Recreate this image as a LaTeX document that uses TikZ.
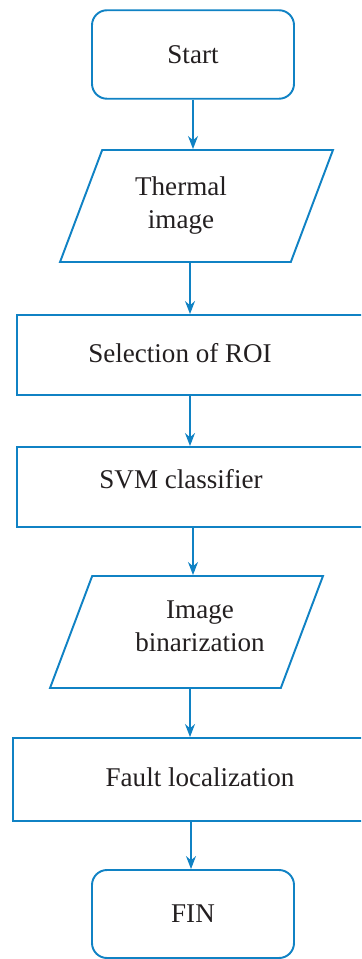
\documentclass[tikz,border=0pt]{standalone}
\usepackage{fontspec}
\setmainfont{Liberation Serif}
\usepackage{tikz}
\usetikzlibrary{shapes.geometric,arrows.meta}
\usepackage{xcolor}
\definecolor{flowblue}{RGB}{16, 130, 196}
\definecolor{flowtext}{RGB}{35, 31, 32}

\tikzset{
    startstop/.style={draw=flowblue,line width=1.1pt,rounded corners=0.3cm,
        minimum width=4.04cm,minimum height=1.77cm,text=flowtext},
    iobox/.style={draw=flowblue,line width=1.1pt,trapezium,trapezium stretches=true,
        trapezium left angle=77.4,trapezium right angle=102.6,inner sep=2pt,
        minimum width=5.46cm,minimum height=2.24cm},
    procbox/.style={draw=flowblue,line width=1.1pt,rectangle,inner sep=0pt,
        minimum height=1.6cm},
    boxtext/.style={text=flowtext,align=center},
    flowarrow/.style={draw=flowblue,line width=0.7pt,-{Stealth[length=0.26cm,width=0.2cm]}}
}

\begin{document}
\fontsize{15.4}{18.8}\selectfont
\begin{tikzpicture}
            \useasboundingbox (0,0) rectangle (7.22,-19.18);
            \clip (0,0) rectangle (7.22,-19.18);

            \node[startstop] (start) at (3.86,-1.09) {Start};
            \node[iobox,label={[boxtext,xshift=-0.31cm]center:Thermal\\image}] (thermal) at (3.93,-4.12) {};
            \node[procbox,minimum width=7.26cm,label={[boxtext,xshift=-0.37cm,yshift=0.04cm]center:Selection of ROI}] (roi) at (3.97,-7.1) {};
            \node[procbox,minimum width=7.26cm,label={[boxtext,xshift=-0.35cm,yshift=0.16cm]center:SVM classifier}] (svm) at (3.97,-9.74) {};
            \node[iobox,label={[boxtext,xshift=0.27cm,yshift=0.12cm]center:Image\\binarization}] (binar) at (3.73,-12.64) {};
            \node[procbox,minimum width=7.34cm,minimum height=1.66cm,label={[boxtext,xshift=0.07cm,yshift=0.05cm]center:Fault localization}] (fault) at (3.93,-15.59) {};
            \node[startstop,minimum height=1.76cm] (fin) at (3.86,-18.28) {FIN};

            % arrow columns
            \coordinate (colA) at (3.80,0);
            \coordinate (colB) at (3.86,0);
            \coordinate (colC) at (3.82,0);

            \draw[flowarrow] (start.south -| colB) -- (thermal.north -| colB);
            \draw[flowarrow] (thermal.south -| colA) -- (roi.north -| colA);
            \draw[flowarrow] (roi.south -| colA) -- (svm.north -| colA);
            \draw[flowarrow] (svm.south -| colB) -- (binar.north -| colB);
            \draw[flowarrow] (binar.south -| colA) -- (fault.north -| colA);
            \draw[flowarrow] (fault.south -| colC) -- (fin.north -| colC);
        \end{tikzpicture}
\end{document}
